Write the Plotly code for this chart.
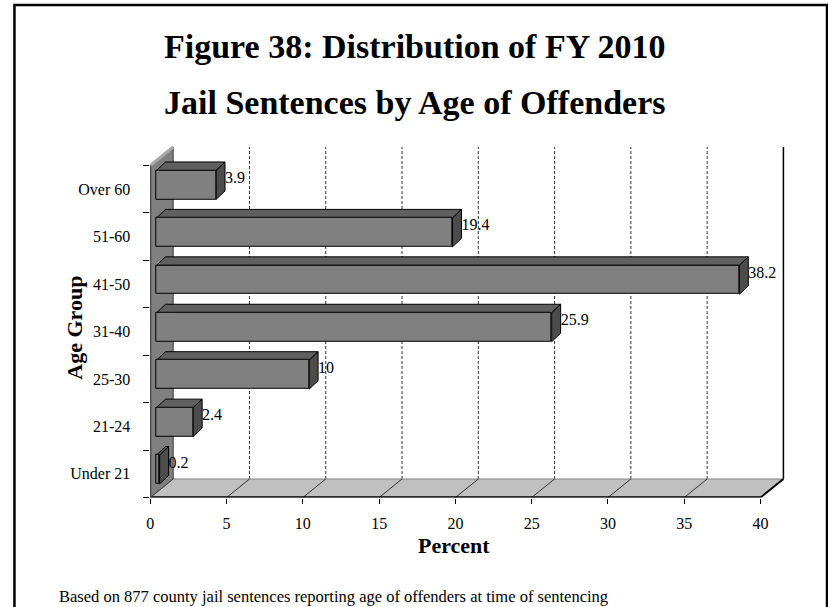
import plotly.graph_objects as go

# ---- data -------------------------------------------------------------
age_groups = ["Under 21", "21-24", "25-30", "31-40", "41-50", "51-60", "Over 60"]
percents = [0.2, 2.4, 10, 25.9, 38.2, 19.4, 3.9]
x_ticks = [0, 5, 10, 15, 20, 25, 30, 35, 40]

title_lines = ["Figure 38: Distribution of FY 2010", "Jail Sentences by Age of Offenders"]
x_title = "Percent"
y_title = "Age Group"
footnote = "Based on 877 county jail sentences reporting age of offenders at time of sentencing"

# ---- page geometry (pixels) ---------------------------------------------
W, H = 828, 607
FONT = "Liberation Serif"

# front plane of the 3-D box: value 0 at x=147px, 15.33 px per percent
PX0, SX = 147.0, 15.33
# category band: -0.5 at y=497.5px, 47.43 px per category
PY0, SY = 497.5, 47.43
X_RANGE = [0, 42.5]
Y_RANGE = [-0.5, 7.0]

# depth of the box (walls/floor) and of the bars, in axis units
WALL_DX, WALL_DY = 23 / SX, 18.5 / SY
BAR_OFF_X, BAR_Y_SHIFT = 6.3 / SX, 0.09
BAR_DX, BAR_DY = 9 / SX, 8.5 / SY
BAR_H = 0.61

x_max = x_ticks[-1]
y_lo, y_hi = -0.5, len(age_groups) - 0.5


def px(x):
    return x / W


def py(y):
    return 1 - y / H


def poly(points):
    return "M " + " L ".join(f"{a},{b}" for a, b in points) + " Z"


shapes = []

# outer frame
shapes.append(dict(type="rect", xref="paper", yref="paper",
                   x0=px(10.5), x1=px(827), y0=py(640), y1=py(5),
                   line=dict(color="black", width=2.5), fillcolor="rgba(0,0,0,0)",
                   layer="below"))

# back wall
shapes.append(dict(type="path", xref="x", yref="y", layer="below",
                   path=poly([(WALL_DX, y_lo + WALL_DY), (x_max + WALL_DX, y_lo + WALL_DY),
                              (x_max + WALL_DX, y_hi + WALL_DY), (WALL_DX, y_hi + WALL_DY)]),
                   fillcolor="white", line=dict(width=0)))
# dashed gridlines on the back wall
for t in x_ticks[1:-1]:
    shapes.append(dict(type="line", xref="x", yref="y", layer="below",
                       x0=t + WALL_DX, x1=t + WALL_DX, y0=y_lo + WALL_DY, y1=y_hi + WALL_DY,
                       line=dict(color="#333333", width=1, dash="3px,2px")))
# right edge of back wall
shapes.append(dict(type="line", xref="x", yref="y", layer="below",
                   x0=x_max + WALL_DX, x1=x_max + WALL_DX, y0=y_lo + WALL_DY, y1=y_hi + WALL_DY,
                   line=dict(color="black", width=1.5)))

# floor
shapes.append(dict(type="path", xref="x", yref="y", layer="below",
                   path=poly([(0, y_lo), (x_max, y_lo), (x_max + WALL_DX, y_lo + WALL_DY),
                              (WALL_DX, y_lo + WALL_DY)]),
                   fillcolor="#c0c0c0", line=dict(color="#808080", width=1)))
for t in x_ticks[1:-1]:
    shapes.append(dict(type="line", xref="x", yref="y", layer="below",
                       x0=t, x1=t + WALL_DX, y0=y_lo, y1=y_lo + WALL_DY,
                       line=dict(color="#333333", width=1)))
shapes.append(dict(type="line", xref="x", yref="y", layer="below",
                   x0=x_max, x1=x_max + WALL_DX, y0=y_lo, y1=y_lo + WALL_DY,
                   line=dict(color="black", width=2)))
# front floor edge (axis line)
shapes.append(dict(type="line", xref="x", yref="y", layer="below",
                   x0=0, x1=x_max, y0=y_lo, y1=y_lo,
                   line=dict(color="black", width=2.5)))

# left wall
shapes.append(dict(type="path", xref="x", yref="y", layer="below",
                   path=poly([(0, y_lo), (0, y_hi), (WALL_DX, y_hi + WALL_DY), (WALL_DX, y_lo + WALL_DY)]),
                   fillcolor="#808080", line=dict(color="#3a3a3a", width=1)))
shapes.append(dict(type="line", xref="x", yref="y", layer="below",
                   x0=0, x1=WALL_DX, y0=y_hi, y1=y_hi + WALL_DY,
                   line=dict(color="#a8a8a8", width=3)))
shapes.append(dict(type="line", xref="x", yref="y", layer="below",
                   x0=0, x1=0, y0=y_lo, y1=y_hi,
                   line=dict(color="#3a3a3a", width=2)))

# bar top and side faces
bar_y = [i + BAR_Y_SHIFT for i in range(len(age_groups))]
for yc, v in zip(bar_y, percents):
    x0, x1 = BAR_OFF_X, BAR_OFF_X + v
    yb, yt = yc - BAR_H / 2, yc + BAR_H / 2
    shapes.append(dict(type="path", xref="x", yref="y", layer="below",
                       path=poly([(x0, yt), (x1, yt), (x1 + BAR_DX, yt + BAR_DY), (x0 + BAR_DX, yt + BAR_DY)]),
                       fillcolor="#606060", line=dict(color="black", width=1)))
    shapes.append(dict(type="path", xref="x", yref="y", layer="below",
                       path=poly([(x1, yb), (x1, yt), (x1 + BAR_DX, yt + BAR_DY), (x1 + BAR_DX, yb + BAR_DY)]),
                       fillcolor="#4c4c4c", line=dict(color="black", width=1)))

fig = go.Figure()

# bar front faces
fig.add_trace(go.Bar(
    orientation="h", y=bar_y, x=percents, base=BAR_OFF_X, width=BAR_H,
    marker=dict(color="#808080", line=dict(color="black", width=1)),
    hoverinfo="skip", showlegend=False,
))

# value labels
fig.add_trace(go.Scatter(
    x=[BAR_OFF_X + v + BAR_DX for v in percents],
    y=[yc + BAR_DY * 0.7 for yc in bar_y],
    mode="text", text=[f"{v:g}" for v in percents], textposition="middle right",
    textfont=dict(family=FONT, size=16, color="black"),
    hoverinfo="skip", showlegend=False, cliponaxis=False,
))

annotations = [
    dict(text=f"<b>{title_lines[0]}</b>", x=px(412), y=py(46), xref="paper", yref="paper",
         showarrow=False, font=dict(family=FONT, size=34, color="black"),
         xanchor="center", yanchor="middle"),
    dict(text=f"<b>{title_lines[1]}</b>", x=px(412), y=py(102), xref="paper", yref="paper",
         showarrow=False, font=dict(family=FONT, size=34, color="black"),
         xanchor="center", yanchor="middle"),
    dict(text=f"<b>{x_title}</b>", x=px(452), y=py(545), xref="paper", yref="paper",
         showarrow=False, font=dict(family=FONT, size=22, color="black"),
         xanchor="center", yanchor="middle"),
    dict(text=f"<b>{y_title}</b>", x=px(70), y=py(328), xref="paper", yref="paper",
         showarrow=False, font=dict(family=FONT, size=22, color="black"),
         textangle=-90, xanchor="center", yanchor="middle"),
    dict(text=footnote, x=px(53), y=py(596), xref="paper", yref="paper",
         showarrow=False, font=dict(family=FONT, size=16.5, color="black"),
         xanchor="left", yanchor="middle"),
]

x_left = PX0
x_right = PX0 + (X_RANGE[1] - X_RANGE[0]) * SX
y_bottom = PY0
y_top = PY0 - (Y_RANGE[1] - Y_RANGE[0]) * SY

fig.update_layout(
    width=W, height=H,
    margin=dict(l=0, r=0, t=0, b=0),
    paper_bgcolor="white", plot_bgcolor="rgba(0,0,0,0)",
    font=dict(family=FONT, size=16, color="black"),
    bargap=0,
    xaxis=dict(
        domain=[px(x_left), px(x_right)], range=X_RANGE,
        tickvals=x_ticks, ticktext=[str(t) for t in x_ticks],
        ticks="outside", ticklen=5, tickcolor="black", tickwidth=1,
        showgrid=False, zeroline=False, showline=False,
        tickfont=dict(family=FONT, size=16, color="black"),
        ticklabelstandoff=6, fixedrange=True,
    ),
    yaxis=dict(
        domain=[py(y_bottom), py(y_top)], range=Y_RANGE,
        tickvals=list(range(len(age_groups))), ticktext=age_groups,
        ticks="", showgrid=False, zeroline=False, showline=False,
        tickfont=dict(family=FONT, size=16, color="black"),
        ticklabelstandoff=19, fixedrange=True,
        minor=dict(tickvals=[i - 0.5 for i in range(len(age_groups) + 1)],
                   ticks="outside", ticklen=6, tickcolor="black", tickwidth=1,
                   showgrid=False),
    ),
    shapes=shapes,
    annotations=annotations,
)

fig.write_html("out.html")
